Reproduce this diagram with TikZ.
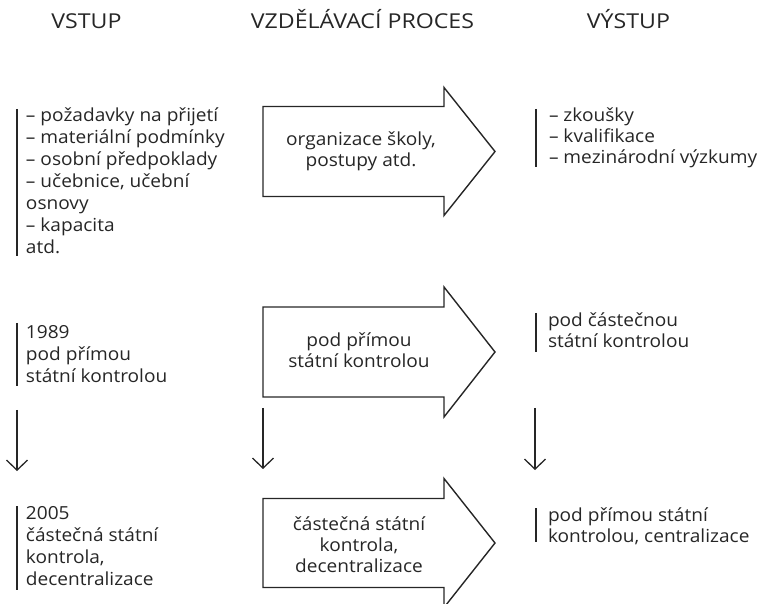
\documentclass[tikz,border=0pt]{standalone}
\usepackage{fontspec}
\setmainfont[FakeStretch=1.06]{Open Sans}
\newfontfamily\headfont[FakeStretch=1.13]{Open Sans}
\usetikzlibrary{arrows.meta}
\definecolor{ink}{HTML}{262626}
\begin{document}
\begin{tikzpicture}[x=1pt,y=-1pt,
  every node/.style={inner sep=0pt, outer sep=0pt, text=ink},
  head/.style={font=\headfont\fontsize{20.5}{22}\selectfont, anchor=base},
  lefttxt/.style={font=\fontsize{18}{22}\selectfont, align=left, anchor=base west},
  righttxt/.style={font=\fontsize{18}{21}\selectfont, align=left, anchor=base west},
  midtxt/.style={font=\fontsize{18}{21}\selectfont, align=center, anchor=base},
  bar/.style={draw=ink, line width=1.4pt},
  procarrow/.style={draw=ink, line width=1.4pt, line join=miter},
  downarr/.style={draw=ink, line width=1.3pt, -{Straight Barb[length=10pt,width=21pt,line width=1.3pt]}}
]
\useasboundingbox (0,0) rectangle (764,604);

% headers
\node[head] (hvst) at (86.5,29) {VSTUP};
\node[head] (hproc) at (362.5,29) {VZDĚLÁVACÍ PROCES};
\node[head] (hvys) at (628.5,29) {VÝSTUP};

% row 1 (anchor = baseline of the last line)
\draw[bar] (17,109) -- (17,256);
\node[lefttxt] (in1) at (26,254) {– požadavky na přijetí\\– materiální podmínky\\– osobní předpoklady\\– učebnice, učební\\osnovy\\– kapacita\\atd.};
\draw[procarrow] (263,106.5) -- (444,106.5) -- (444,87.5) -- (495,151.5) -- (444,215.5) -- (444,196.5) -- (263,196.5) -- cycle;
\node[midtxt] (proc1) at (361,167) {organizace školy,\\postupy atd.};
\draw[bar] (536,109) -- (536,167);
\node[righttxt] (out1) at (549,164) {– zkoušky\\– kvalifikace\\– mezinárodní výzkumy};

% row 2
\draw[bar] (17,323) -- (17,386);
\node[lefttxt] (in2) at (26,382.5) {1989\\pod přímou\\státní kontrolou};
\draw[procarrow] (263,307) -- (444,307) -- (444,287) -- (495,352) -- (444,417) -- (444,397) -- (263,397) -- cycle;
\node[midtxt] (proc2) at (359,368) {pod přímou\\státní kontrolou};
\draw[bar] (536,313) -- (536,352);
\node[righttxt] (out2) at (548,348) {pod částečnou\\státní kontrolou};

% down arrows
\coordinate (dla) at (17,410); \coordinate (dlb) at (17,471);
\coordinate (dma) at (263,408); \coordinate (dmb) at (263,469);
\coordinate (dra) at (535,408); \coordinate (drb) at (535,470);
\draw[downarr] (dla) -- (dlb);
\draw[downarr] (dma) -- (dmb);
\draw[downarr] (dra) -- (drb);

% row 3
\draw[bar] (17,506) -- (17,590);
\node[lefttxt] (in3) at (26,585) {2005\\částečná státní\\kontrola,\\decentralizace};
\draw[procarrow] (263,498.5) -- (444,498.5) -- (444,478.5) -- (495,543) -- (444,607.5) -- (444,587.5) -- (263,587.5) -- cycle;
\node[midtxt] (proc3) at (359,572) {částečná státní\\kontrola,\\decentralizace};
\draw[bar] (536,508) -- (536,542);
\node[righttxt] (out3) at (548,542) {pod přímou státní\\kontrolou, centralizace};
\end{tikzpicture}
\end{document}
